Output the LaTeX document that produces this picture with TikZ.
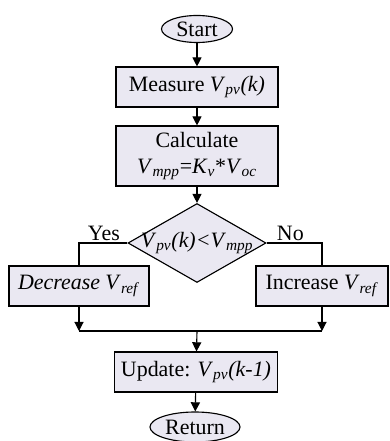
\documentclass[tikz,border=0pt]{standalone}
\usepackage{fontspec}
\setmainfont{Liberation Serif}
\usetikzlibrary{arrows.meta,shapes.geometric}

\definecolor{boxfill}{RGB}{234,232,242}
\newcommand{\Vx}[1]{\textit{V}\textsubscript{\textit{#1}}}

\tikzset{
  block/.style={draw,fill=boxfill,minimum height=1cm,inner sep=2pt},
  term/.style={draw,ellipse,fill=boxfill,inner sep=0pt},
  decision/.style={draw,diamond,fill=boxfill,inner sep=0pt,
    minimum width=3.45cm,minimum height=1.975cm},
}

\begin{document}
\begin{tikzpicture}[>={Triangle[length=6.5pt,width=6.5pt]},line width=0.8pt,
    font=\fontsize{15.6}{18.5}\selectfont]
        \useasboundingbox (0,0) rectangle (9.725,11.025);

        % start
        \node[term,minimum width=1.775cm,minimum height=0.675cm] (start) at (4.925,10.3) {Start};
        \node[block,minimum width=4.05cm] (meas) at (4.925,8.85) {Measure \Vx{pv}\textit{(k)}};
        \node[block,minimum width=4.05cm,minimum height=1.5cm,align=center] (calc) at (4.925,7.125)
            {Calculate\\\Vx{mpp}=\textit{K}\textsubscript{\textit{v}}*\Vx{oc}};

        % decision
        \node[decision] (cmp) at (4.925,4.95) {\makebox[0pt]{\Vx{pv}\textit{(k)}\textit{<}\Vx{mpp}}};
        \node[anchor=south east,inner sep=1pt] (yes) at ([xshift=-4pt]cmp.west) {Yes};
        \node[anchor=south west,inner sep=1pt] (no) at ([xshift=6pt]cmp.east) {No};
        \node[block,minimum width=3.5cm] (dec) at (1.975,3.875) {\textit{Decrease} \Vx{ref}};
        \node[block,minimum width=3.3cm] (inc) at (8.05,3.875) {Increase \Vx{ref}};

        % end
        \coordinate (join) at (4.925,2.75);
        \node[block,minimum width=4.075cm] (upd) at (4.9,1.725) {Update: \Vx{pv}\textit{(k-1)}};
        \node[term,minimum width=2.25cm,minimum height=0.75cm] (ret) at (4.875,0.35) {Return};

        % arrows
        \draw[->] (start) -- (meas);
        \draw[->] (meas) -- (calc);
        \draw[->] (calc) -- (cmp);
        \draw (cmp.west) -| (dec.north);
        \draw (cmp.east) -| (inc.north);
        \draw[->] (dec.south) -- (dec.south |- join);
        \draw[->] (inc.south) -- (inc.south |- join);
        \draw (dec.south |- join) -- (inc.south |- join);
        \draw[->] (join) -- (upd);
        \draw[->] (upd) -- (ret);
    \end{tikzpicture}
\end{document}
